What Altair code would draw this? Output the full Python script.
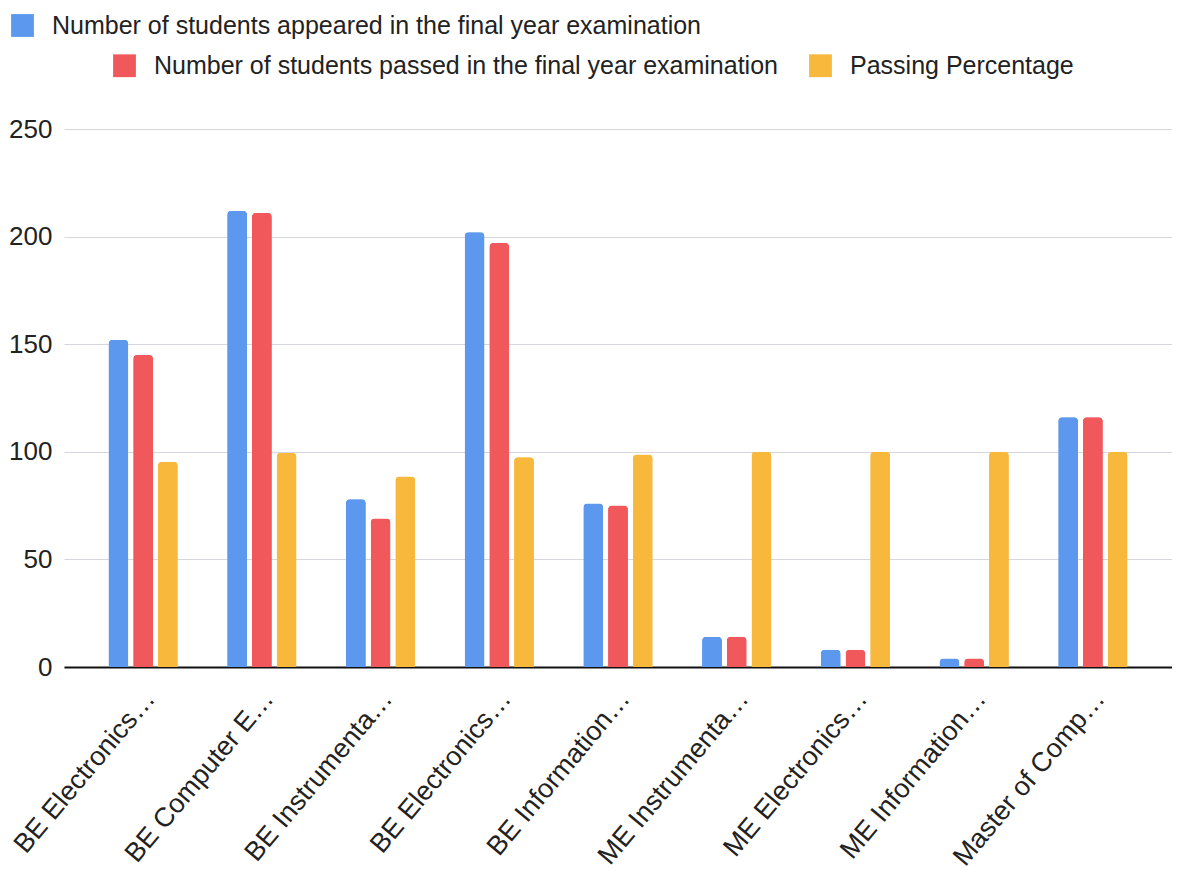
import json
import altair as alt
import pandas as pd

categories = [
    "BE Electronics…",
    "BE Computer E…",
    "BE Instrumenta…",
    "BE Electronics…",
    "BE Information…",
    "ME Instrumenta…",
    "ME Electronics…",
    "ME Information…",
    "Master of Comp…",
]
series = [
    "Number of students appeared in the final year examination",
    "Number of students passed in the final year examination",
    "Passing Percentage",
]
appeared = [152, 212, 78, 202, 76, 14, 8, 4, 116]
passed = [145, 211, 69, 197, 75, 14, 8, 4, 116]
percentage = [95.4, 99.5, 88.5, 97.5, 98.7, 100, 100, 100, 100]
colors = ["#5B98EE", "#F1585C", "#F8B83C"]

rows = []
for i, cat in enumerate(categories):
    for s, vals in zip(series, [appeared, passed, percentage]):
        rows.append({"idx": i, "program": cat, "series": s, "value": vals[i]})
df = pd.DataFrame(rows)

label_expr = json.dumps(categories, ensure_ascii=False) + "[datum.value]"
FONT = "Liberation Sans"

x = alt.X(
    "idx:O",
    title=None,
    scale=alt.Scale(paddingInner=0.417, paddingOuter=0.375),
    axis=alt.Axis(
        labelExpr=label_expr,
        labelAngle=-50,
        labelAlign="right",
        labelBaseline="middle",
        labelFontSize=27,
        labelFont=FONT,
        labelColor="#222222",
        labelPadding=27,
        labelOffset=7,
        labelLimit=400,
        ticks=False,
        domain=True,
        domainColor="#111111",
        domainWidth=2,
        grid=False,
    ),
)
xoff = alt.XOffset("series:N", sort=series, scale=alt.Scale(paddingInner=0.2, paddingOuter=0))
y = alt.Y(
    "value:Q",
    title=None,
    scale=alt.Scale(domain=[0, 250], nice=False),
    axis=alt.Axis(
        values=[0, 50, 100, 150, 200, 250],
        labelFontSize=26,
        labelFont=FONT,
        labelColor="#222222",
        labelPadding=12,
        ticks=False,
        domain=False,
        gridColor="#D6D6DC",
        gridWidth=1,
    ),
)

base = alt.Chart(df)
bar_kw = dict(cornerRadiusTopLeft=4, cornerRadiusTopRight=4)

legend_kw = dict(
    title=None,
    orient="none",
    direction="horizontal",
    labelFontSize=25,
    labelFont=FONT,
    labelColor="#222222",
    symbolType="square",
    symbolSize=520,
    symbolStrokeWidth=0,
    labelOffset=17,
    columnPadding=30,
    labelLimit=1000,
)

layer1 = base.mark_bar(**bar_kw).encode(
    x=x,
    xOffset=xoff,
    y=y,
    color=alt.Color(
        "series:N",
        sort=series,
        scale=alt.Scale(domain=series, range=colors),
        legend=alt.Legend(values=[series[0]], legendX=-54, legendY=-116, **legend_kw),
    ),
)
layer2 = base.mark_bar(**bar_kw).encode(
    x=x,
    xOffset=xoff,
    y=y,
    fill=alt.Fill(
        "series:N",
        sort=series,
        scale=alt.Scale(domain=series, range=colors),
        legend=alt.Legend(values=series[1:], legendX=48, legendY=-76, **legend_kw),
    ),
)

chart = (
    alt.layer(layer1, layer2)
    .resolve_scale(color="independent")
    .properties(
        width=1108,
        height=538,
        background="white",
        padding={"left": 0, "top": 5, "right": 0, "bottom": 5},
    )
    .configure_view(stroke=None, strokeWidth=0)
)

chart.save("out.html", embed_options={"renderer": "svg", "actions": False})
